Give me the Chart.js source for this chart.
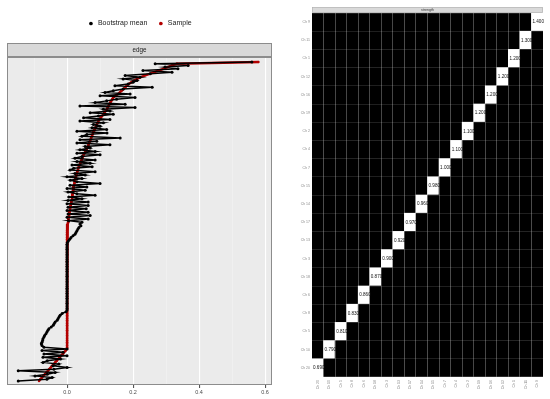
<!DOCTYPE html>
<html>
<head>
<meta charset="utf-8">
<script src="https://cdn.jsdelivr.net/npm/chart.js@4.4.1/dist/chart.umd.min.js"></script>
<style>
html,body{margin:0;padding:0;background:#ffffff;width:550px;height:399px;overflow:hidden;}
#left{position:absolute;left:0;top:0;width:290px;height:399px;}
#right{position:absolute;left:295px;top:0;width:255px;height:399px;}
</style>
</head>
<body>
<div id="left"><canvas id="c1"></canvas></div>
<div id="right"><canvas id="c2"></canvas></div>
<script>
// ---------------- LEFT PANEL DATA (edges ordered by sample value, top -> bottom) ----------------
const legendLabels = ['Bootstrap mean', 'Sample'];
const stripLeft = 'edge';
const xTickLabels = ['0.0', '0.2', '0.4', '0.6'];

const bootMean = [
  0.560, 0.267, 0.367, 0.297, 0.336, 0.230, 0.318, 0.252, 0.176, 0.221,
  0.170, 0.212, 0.200, 0.185, 0.145, 0.258, 0.170, 0.140, 0.115, 0.191,
  0.100, 0.206, 0.150, 0.120, 0.085, 0.176, 0.039, 0.206, 0.110, 0.130,
  0.070, 0.140, 0.095, 0.050, 0.130, 0.039, 0.110, 0.080, 0.100, 0.076,
  0.120, 0.030, 0.121, 0.060, 0.045, 0.161, 0.039, 0.090, 0.030, 0.130,
  0.055, 0.070, 0.039, 0.085, 0.030, 0.100, 0.045, 0.024, 0.085, 0.030,
  0.070, 0.015, 0.076, 0.020, 0.009, 0.085, 0.024, 0.055, 0.000, 0.045,
  0.010, 0.030, 0.100, 0.009, 0.060, 0.000, 0.055, 0.003, 0.030, 0.085,
  0.005, 0.045, 0.003, 0.064, 0.000, 0.064, 0.003, 0.058, 0.000, 0.064,
  0.003, 0.070, 0.000, 0.064, 0.005, 0.045, 0.039, 0.042, 0.036, 0.033,
  0.030, 0.027, 0.024, 0.018, 0.012, 0.008, 0.004, 0.001,
  0, 0, 0, 0, 0, 0, 0, 0, 0, 0,
  0, 0, 0, 0, 0, 0, 0, 0, 0, 0,
  0, 0, 0, 0, 0, 0, 0, 0, 0, 0,
  0, 0, 0, 0, 0, 0, 0, 0, 0, 0,
  -0.003, -0.015, -0.021, -0.024, -0.027, -0.030, -0.036, -0.039, -0.042, -0.048,
  -0.055, -0.058, -0.061, -0.064, -0.068, -0.070, -0.073, -0.074, -0.076, -0.078,
  -0.076, -0.070, 0.000, -0.076, -0.012, -0.070, 0.000, -0.073, -0.020, -0.060,
  -0.073, -0.025, -0.042, 0.000, -0.040, -0.148, -0.036, -0.060, -0.097, -0.045,
  -0.061, -0.148
];

const sampleVal = [
  0.580, 0.333, 0.318, 0.305, 0.292, 0.278, 0.264, 0.250, 0.235, 0.222,
  0.212, 0.203, 0.195, 0.187, 0.181, 0.176, 0.171, 0.165, 0.160, 0.154,
  0.147, 0.140, 0.137, 0.134, 0.131, 0.128, 0.126, 0.123, 0.121, 0.117,
  0.113, 0.110, 0.106, 0.102, 0.098, 0.095, 0.093, 0.090, 0.088, 0.086,
  0.083, 0.081, 0.079, 0.077, 0.075, 0.073, 0.071, 0.069, 0.067, 0.065,
  0.064, 0.061, 0.059, 0.056, 0.053, 0.050, 0.048, 0.046, 0.044, 0.042,
  0.040, 0.038, 0.036, 0.034, 0.033, 0.031, 0.030, 0.028, 0.027, 0.025,
  0.024, 0.023, 0.022, 0.021, 0.020, 0.019, 0.018, 0.018, 0.017, 0.016,
  0.015, 0.015, 0.014, 0.013, 0.012, 0.011, 0.010, 0.009, 0.008, 0.007,
  0.006, 0.006, 0.005, 0.004, 0.004, 0.003, 0.002, 0.002, 0.001, 0.001,
  0, 0, 0, 0, 0, 0, 0, 0, 0, 0,
  0, 0, 0, 0, 0, 0, 0, 0, 0, 0,
  0, 0, 0, 0, 0, 0, 0, 0, 0, 0,
  0, 0, 0, 0, 0, 0, 0, 0, 0, 0,
  0, 0, 0, 0, 0, 0, 0, 0, 0, 0,
  0, 0, 0, 0, 0, 0, 0, 0, 0, 0,
  0, 0, 0, 0, 0, 0, 0, 0, 0, 0,
  0,
  -0.004, -0.009, -0.013, -0.018, -0.022, -0.027, -0.031, -0.036, -0.040, -0.045,
  -0.049, -0.054, -0.058, -0.063, -0.067, -0.072, -0.076, -0.081, -0.085
];

// ---------------- RIGHT PANEL DATA ----------------
const stripRight = 'strength';
const rowLabels = ['Ch 9', 'Ch 11', 'Ch 1', 'Ch 12', 'Ch 16', 'Ch 19', 'Ch 2', 'Ch 4', 'Ch 7', 'Ch 15',
                   'Ch 14', 'Ch 17', 'Ch 13', 'Ch 3', 'Ch 18', 'Ch 6', 'Ch 8', 'Ch 5', 'Ch 10', 'Ch 20'];
const colLabels = ['Ch 20', 'Ch 10', 'Ch 5', 'Ch 8', 'Ch 6', 'Ch 18', 'Ch 3', 'Ch 13', 'Ch 17', 'Ch 14',
                   'Ch 15', 'Ch 7', 'Ch 4', 'Ch 2', 'Ch 19', 'Ch 16', 'Ch 12', 'Ch 1', 'Ch 11', 'Ch 9'];
// diagonal value per row, top row first
const diagValues = [1.400, 1.300, 1.200, 1.200, 1.200, 1.200, 1.100, 1.100, 1.000, 0.980,
                    0.960, 0.970, 0.920, 0.900, 0.870, 0.860, 0.830, 0.810, 0.790, 0.690];

// ---------------- COMMON ----------------
Chart.defaults.font.family = "'Liberation Sans', Arial, sans-serif";
Chart.defaults.animation = false;

const isMajor = v => xTickLabels.includes((Math.round(v * 10) / 10).toFixed(1));

const panelPlugin = {
  id: 'panel',
  beforeDraw(chart, args, o) {
    const { ctx, chartArea: a } = chart;
    ctx.save();
    if (o.bg) { ctx.fillStyle = o.bg; ctx.fillRect(a.left, a.top, a.right - a.left, a.bottom - a.top); }
    ctx.fillStyle = o.stripBg;
    ctx.fillRect(a.left, a.top - o.stripH - o.stripGap, a.right - a.left, o.stripH);
    ctx.restore();
  },
  afterDraw(chart, args, o) {
    const { ctx, chartArea: a } = chart;
    ctx.save();
    ctx.strokeStyle = o.border;
    ctx.lineWidth = o.borderW;
    if (o.panelBorder) ctx.strokeRect(a.left + 0.5, a.top + 0.5, a.right - a.left - 1, a.bottom - a.top - 1);
    ctx.strokeRect(a.left + 0.5, a.top - o.stripH - o.stripGap + 0.5, a.right - a.left - 1, o.stripH - 1);
    ctx.fillStyle = o.textColor;
    ctx.font = o.fontSize + "px 'Liberation Sans', Arial, sans-serif";
    ctx.textAlign = 'center';
    ctx.textBaseline = 'middle';
    ctx.fillText(o.text, (a.left + a.right) / 2, a.top - o.stripGap - o.stripH / 2);
    ctx.restore();
  }
};

const legendGap = {
  id: 'legendGap',
  beforeLayout(chart, args, o) {
    const lg = chart.legend;
    if (lg && !lg.__patched) {
      const orig = lg.fit;
      lg.fit = function () { orig.call(this); this.height = o.height; };
      lg.__patched = true;
    }
  }
};

// ---------------- LEFT CHART ----------------
new Chart(document.getElementById('c1'), {
  type: 'scatter',
  data: {
    datasets: [
      {
        label: legendLabels[0],
        data: bootMean.map((v, i) => ({ x: v, y: i })),
        showLine: true,
        borderColor: '#000000',
        backgroundColor: '#000000',
        pointBackgroundColor: '#000000',
        borderWidth: 1.5,
        pointRadius: 1.5,
        pointBorderWidth: 0,
        pointStyle: 'circle'
      },
      {
        label: legendLabels[1],
        data: sampleVal.map((v, i) => ({ x: v, y: i })),
        showLine: true,
        borderColor: '#b30000',
        backgroundColor: '#b30000',
        pointBackgroundColor: '#b30000',
        borderWidth: 2.4,
        pointRadius: 1.2,
        pointBorderWidth: 0,
        pointStyle: 'circle'
      }
    ]
  },
  options: {
    responsive: true,
    maintainAspectRatio: false,
    devicePixelRatio: 1,
    layout: { padding: { left: 7, right: 18, top: 10, bottom: 0 } },
    scales: {
      x: {
        type: 'linear', min: -0.182, max: 0.621,
        afterFit(s) { s.height = 14; },
        border: { display: false },
        grid: {
          color: c => isMajor(c.tick.value) ? '#ffffff' : '#f4f4f4',
          lineWidth: c => isMajor(c.tick.value) ? 1.1 : 0.6,
          tickLength: 3,
          tickColor: c => isMajor(c.tick.value) ? '#555555' : 'rgba(0,0,0,0)'
        },
        ticks: {
          stepSize: 0.1, includeBounds: false, autoSkip: false, maxRotation: 0, minRotation: 0,
          padding: 1, color: '#4d4d4d', font: { size: 5.5 },
          callback: v => isMajor(v) ? (Math.round(v * 10) / 10).toFixed(1) : ''
        }
      },
      y: { type: 'linear', reverse: true, min: -3, max: 191.4, display: false }
    },
    plugins: {
      legend: {
        position: 'top', align: 'center',
        labels: { usePointStyle: true, pointStyle: 'circle', boxWidth: 7, boxHeight: 2.6, padding: 10,
                  color: '#1a1a1a', font: { size: 7 } }
      },
      legendGap: { height: 47 },
      tooltip: { enabled: false },
      panel: { bg: '#ebebeb', stripBg: '#d9d9d9', stripH: 14, stripGap: 0, border: '#8c8c8c', borderW: 1,
               panelBorder: true, text: stripLeft, textColor: '#1a1a1a', fontSize: 6.3 }
    }
  },
  plugins: [legendGap, panelPlugin]
});

// ---------------- RIGHT CHART (heatmap from unit stacked bars) ----------------
const nRows = rowLabels.length;
const heatSets = rowLabels.slice().reverse().map((lab, k) => ({
  label: lab,
  data: colLabels.map(() => 1),
  backgroundColor: colLabels.map((_, c) => c === k ? '#ffffff' : '#000000'),
  borderWidth: 0,
  barPercentage: 1,
  categoryPercentage: 1
}));

const cellText = {
  id: 'cellText',
  afterDraw(chart) {
    const { ctx } = chart;
    ctx.save();
    ctx.fillStyle = '#111111';
    ctx.font = "4.6px 'Liberation Sans', Arial, sans-serif";
    ctx.textAlign = 'center';
    ctx.textBaseline = 'middle';
    for (let k = 0; k < nRows; k++) {
      const el = chart.getDatasetMeta(k).data[k];
      const p = el.getProps(['x', 'y', 'base'], true);
      ctx.fillText(diagValues[nRows - 1 - k].toFixed(3), p.x + 1, (p.y + p.base) / 2);
    }
    ctx.restore();
  }
};

new Chart(document.getElementById('c2'), {
  type: 'bar',
  data: { labels: colLabels, datasets: heatSets },
  options: {
    responsive: true,
    maintainAspectRatio: false,
    devicePixelRatio: 1,
    layout: { padding: { left: 0, right: 7, top: 13, bottom: 0 } },
    scales: {
      x: {
        type: 'category', stacked: true, offset: true,
        afterFit(s) { s.height = 22; },
        border: { display: false },
        grid: { offset: true, z: 1, color: 'rgba(255,255,255,0.28)', lineWidth: 1, drawTicks: false },
        ticks: { minRotation: 90, maxRotation: 90, autoSkip: false, font: { size: 3.5 }, color: '#888888', padding: 3 }
      },
      y: {
        type: 'linear', stacked: true, min: 0, max: nRows,
        afterFit(s) { s.width = 0; },
        border: { display: false },
        grid: { z: 1, color: 'rgba(255,255,255,0.12)', lineWidth: 1, drawTicks: false },
        ticks: { display: false, stepSize: 1 }
      },
      yl: {
        type: 'category', position: 'left', labels: rowLabels, offset: true,
        afterFit(s) { s.width = 17; },
        border: { display: false },
        grid: { display: false, drawTicks: false },
        ticks: { font: { size: 3.5 }, color: '#888888', padding: 2, autoSkip: false }
      }
    },
    plugins: {
      legend: { display: false },
      tooltip: { enabled: false },
      panel: { bg: null, stripBg: '#d9d9d9', stripH: 6, stripGap: 0, border: '#b0b0b0', borderW: 0.6,
               panelBorder: false, text: stripRight, textColor: '#333333', fontSize: 3.6 }
    }
  },
  plugins: [panelPlugin, cellText]
});
</script>
</body>
</html>
